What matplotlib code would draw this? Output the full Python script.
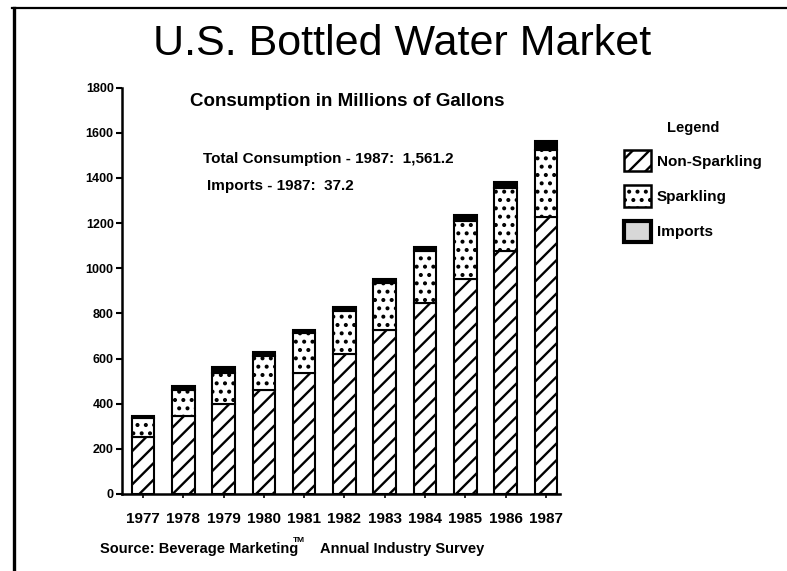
import matplotlib
matplotlib.use("Agg")
import matplotlib.pyplot as plt
from matplotlib.patches import Patch
from matplotlib.lines import Line2D
import numpy as np

plt.rcParams['font.family'] = ['Liberation Sans', 'DejaVu Sans']
plt.rcParams['hatch.linewidth'] = 1.7

years = ['1977', '1978', '1979', '1980', '1981', '1982', '1983', '1984', '1985', '1986', '1987']
year_labels = ['1977', '1978', '1979', '1980', '1981', '1982', '1983', '1984', '1985', '1986', '1987']
non_sparkling = [253, 345, 400, 462, 535, 618, 724, 846, 952, 1074, 1225]
sparkling = [84, 117, 137, 151, 177, 194, 212, 231, 256, 279, 299]
imports = [8, 15, 25, 15, 12, 15, 15, 18, 28, 30, 37.2]
y_ticks = [0, 200, 400, 600, 800, 1000, 1200, 1400, 1600, 1800]
series_labels = ['Non-Sparkling', 'Sparkling', 'Imports']

W, H = 787, 571
fig = plt.figure(figsize=(W / 100, H / 100), dpi=100)

def fx(px):
    return px / W

def fy(py):
    return 1 - py / H

ax = fig.add_axes([fx(122), fy(494), fx(560) - fx(122), fy(87.5) - fy(494)])

x = np.arange(len(years))
ns = np.array(non_sparkling, dtype=float)
sp = np.array(sparkling, dtype=float)
im = np.array(imports, dtype=float)
bw = 0.56
lw = 1.5
ax.bar(x, ns, bw, color='white', edgecolor='black', hatch='//', linewidth=lw, zorder=2)
ax.bar(x, sp, bw, bottom=ns, color='white', edgecolor='black', hatch='..', linewidth=lw, zorder=2)
ax.bar(x, im, bw, bottom=ns + sp, color='black', edgecolor='black', linewidth=lw, zorder=2)

ax.set_xlim(-0.52, 10.35)
ax.set_ylim(0, 1800)
ax.set_yticks(y_ticks)
ax.set_yticklabels([str(v) for v in y_ticks], fontsize=9, fontweight='bold')
ax.set_xticks(x)
ax.set_xticklabels(year_labels, fontsize=11, fontweight='bold')
ax.tick_params(axis='y', direction='out', length=4, width=1.5, pad=2)
ax.tick_params(axis='x', direction='out', length=3, width=1.2, pad=10)
for s in ['top', 'right']:
    ax.spines[s].set_visible(False)
for s in ['left', 'bottom']:
    ax.spines[s].set_linewidth(1.8)

# legend
handles = [
    Patch(facecolor='white', edgecolor='black', hatch='//', linewidth=1.8),
    Patch(facecolor='white', edgecolor='black', hatch='..', linewidth=1.8),
    Patch(facecolor='#d8d8d8', edgecolor='black', linewidth=3),
]
leg = fig.legend(handles, series_labels, loc='upper left', bbox_to_anchor=(fx(624), fy(121)),
                 frameon=False, borderpad=0, borderaxespad=0, handlelength=1.75, handleheight=1.75,
                 handletextpad=0.4, labelspacing=0.92,
                 prop={'size': 11, 'weight': 'bold'},
                 title='Legend', title_fontproperties={'size': 10.5, 'weight': 'bold'})
leg._legend_box.sep = 11

# titles and notes
fig.text(fx(402), fy(44), 'U.S. Bottled Water Market', fontsize=31, ha='center', va='center')
fig.text(fx(347), fy(101), 'Consumption in Millions of Gallons', fontsize=13.5, fontweight='bold',
         ha='center', va='center')
fig.text(fx(203), fy(159), 'Total Consumption - 1987:  1,561.2', fontsize=11, fontweight='bold',
         ha='left', va='center')
fig.text(fx(207), fy(186), 'Imports - 1987:  37.2', fontsize=11, fontweight='bold',
         ha='left', va='center')
fig.text(fx(100), fy(549), 'Source: Beverage Marketing', fontsize=10.5, fontweight='bold',
         ha='left', va='center')
fig.text(fx(293), fy(540), 'TM', fontsize=6, fontweight='bold', ha='left', va='center')
fig.text(fx(320), fy(549), 'Annual Industry Survey', fontsize=10.5, fontweight='bold',
         ha='left', va='center')

# page frame
fig.add_artist(Line2D([fx(12), fx(787)], [fy(8), fy(8)], color='black', linewidth=1.6))
fig.add_artist(Line2D([fx(14), fx(14)], [fy(8), fy(571)], color='black', linewidth=2.4))

fig.savefig('out.png', dpi=100)
